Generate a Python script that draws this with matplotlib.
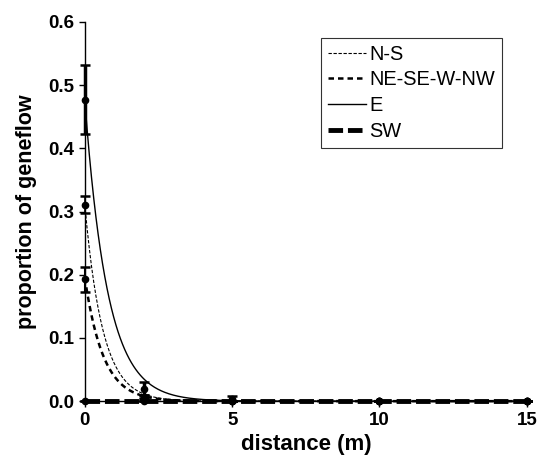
import numpy as np
import matplotlib
matplotlib.use("Agg")
import matplotlib.pyplot as plt

plt.rcParams['font.family'] = ['Liberation Sans', 'DejaVu Sans']

# observed distances and proportions (mean, error)
distance = [0, 2, 5, 10, 15]
series_names = ["N-S", "NE-SE-W-NW", "E", "SW"]
ns_mean = [0.311, 0.007, 0.0, 0.0, 0.0]
ns_err = [0.014, 0.003, 0.0, 0.0, 0.0]
ne_mean = [0.193, 0.003, 0.0, 0.0, 0.0]
ne_err = [0.020, 0.002, 0.0, 0.0, 0.0]
e_mean = [0.477, 0.020, 0.004, 0.0, 0.0]
e_err = [0.055, 0.011, 0.004, 0.0, 0.0]
sw_mean = [0.0, 0.0, 0.0, 0.0, 0.0]
sw_err = [0.0, 0.0, 0.0, 0.0, 0.0]

# fitted exponential decay parameters y = a * exp(-k x)
fit_a = [0.31, 0.195, 0.475, 0.0005]
fit_k = [1.65, 1.6, 1.3, 0.0]

xticks = [0, 5, 10, 15]
yticks = [0.0, 0.1, 0.2, 0.3, 0.4, 0.5, 0.6]

fig = plt.figure(figsize=(5.37, 4.67), dpi=100)
ax = fig.add_axes([0.158, 0.141, 0.823, 0.812])

styles = [
    dict(color='black', lw=0.8, dashes=(3, 1.5)),
    dict(color='black', lw=1.8, dashes=(2.2, 1.6)),
    dict(color='black', lw=1.0, linestyle='-'),
    dict(color='black', lw=3.5, dashes=(3, 1)),
]
err_lw = [1.2, 1.5, 2.5, 1.5]

xf = np.linspace(0, 15, 400)
means = [ns_mean, ne_mean, e_mean, sw_mean]
errs = [ns_err, ne_err, e_err, sw_err]
for name, a, k, st in zip(series_names, fit_a, fit_k, styles):
    ax.plot(xf, a * np.exp(-k * xf), label=name, clip_on=False, **st)

for m, e, lw in zip(means, errs, err_lw):
    ax.errorbar(distance, m, yerr=e, fmt='o', color='black', ms=4.5,
                elinewidth=lw, capsize=3.5, capthick=1.8, clip_on=False, zorder=5)

ax.set_xlim(0, 15)
ax.set_ylim(0, 0.6)
ax.set_xticks(xticks)
ax.set_yticks(yticks)
ax.set_yticklabels([f"{v:.1f}" for v in yticks])
for s in ['top', 'right']:
    ax.spines[s].set_visible(False)
for s in ['left', 'bottom']:
    ax.spines[s].set_linewidth(1.0)
ax.tick_params(axis='both', direction='out', length=4, width=1, labelsize=13.5)
for lab in ax.get_xticklabels() + ax.get_yticklabels():
    lab.set_fontweight('bold')
ax.set_xlabel("distance (m)", fontsize=16, fontweight='bold', labelpad=4)
ax.set_ylabel("proportion of geneflow", fontsize=15.5, fontweight='bold', labelpad=8)

leg = ax.legend(loc='upper right', bbox_to_anchor=(0.935, 0.919),
                bbox_transform=fig.transFigure, fontsize=14.4, frameon=True,
                fancybox=False, edgecolor='black', handlelength=1.9,
                handletextpad=0.15, labelspacing=0.33, borderpad=0.35,
                borderaxespad=0)
leg.get_frame().set_linewidth(0.8)

fig.savefig("out.png", dpi=100)
